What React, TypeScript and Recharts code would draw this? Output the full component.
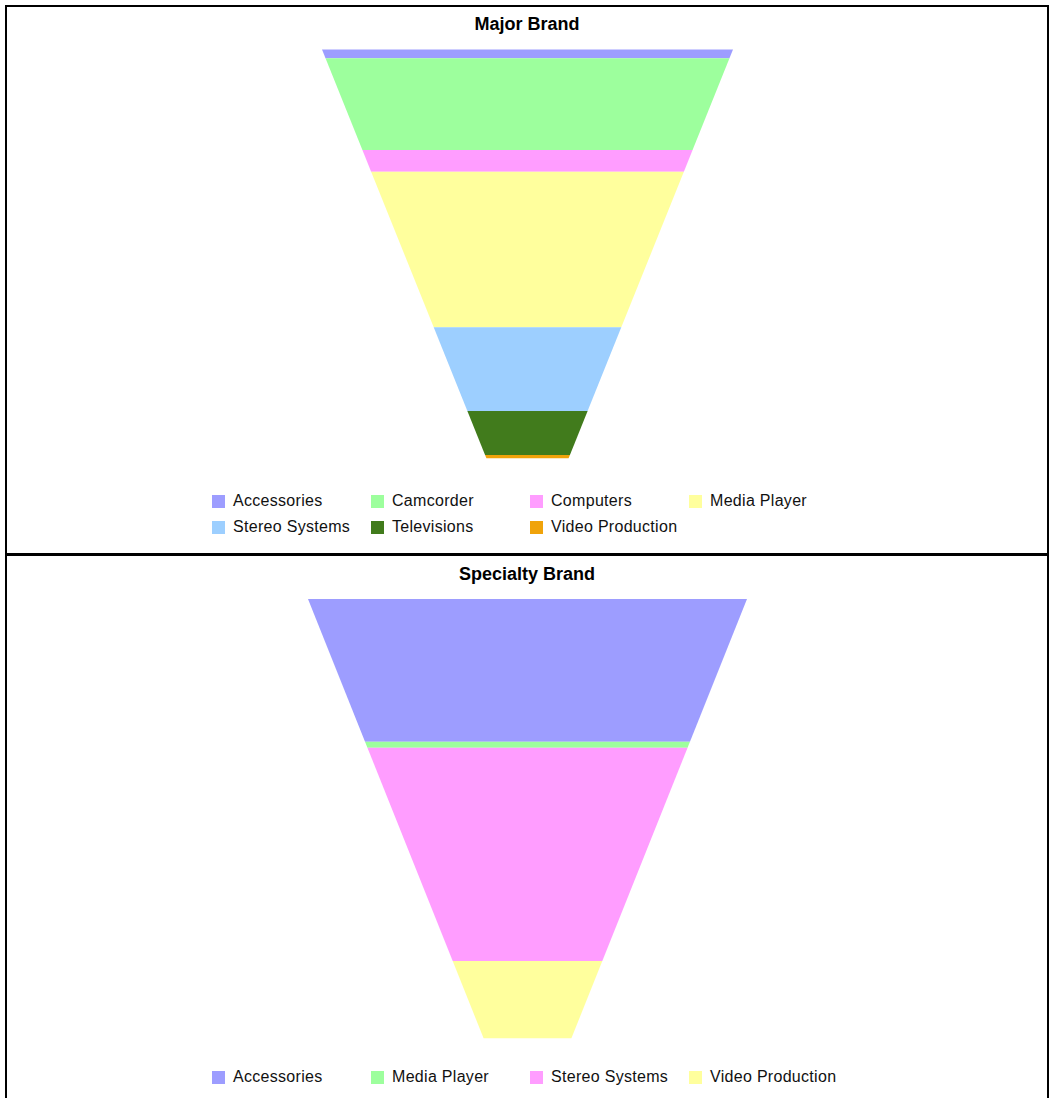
import React from "react"
import { BarChart, Bar, XAxis, YAxis, Legend } from "recharts"

const majorCategories = ["Accessories", "Camcorder", "Computers", "Media Player", "Stereo Systems", "Televisions", "Video Production"]
const majorValues = [8.8, 91.7, 21.7, 155.6, 83.7, 44, 3.3]

const specialtyCategories = ["Accessories", "Media Player", "Stereo Systems", "Video Production"]
const specialtyValues = [142.7, 6, 213.3, 77.3]

const palette = ["#9d9dff", "#9dff9d", "#ff9dff", "#ffff9d", "#9dcfff", "#417b1c", "#f0a30a"]

const CHART_W = 1040
const CHART_H = 546
const NECK = 0.2

// each stacked segment is cut out of one truncated cone spanning the whole plot height
const FunnelSegment = (props: any) => {
  const { x, y, width, height, fill, background } = props
  const top = background ? background.y : 0
  const bottom = background ? background.y + background.height : 1
  const y0 = Math.min(y, y + height)
  const y1 = Math.max(y, y + height)
  const cx = x + width / 2
  const half = (py: number) => (width / 2) * (1 - (1 - NECK) * (py - top) / (bottom - top))
  const pts = [
    [cx - half(y0), y0],
    [cx + half(y0), y0],
    [cx + half(y1), y1],
    [cx - half(y1), y1],
  ]
  return <polygon points={pts.map((p) => p.join(",")).join(" ")} fill={fill} />
}

function FunnelLegend({ payload }: any) {
  return (
    <div style={{ display: "grid", gridTemplateColumns: "repeat(4, 159px)", paddingLeft: 205 }}>
      {(payload || []).map((p: any) => (
        <div key={p.value} style={{ height: 26, display: "flex", alignItems: "center" }}>
          <span style={{ width: 13, height: 13, background: p.color, marginRight: 8, display: "inline-block" }} />
          <span style={{ fontSize: 16, letterSpacing: 0.3, color: "#111", whiteSpace: "nowrap" }}>{p.value}</span>
        </div>
      ))}
    </div>
  )
}

interface FunnelPanelProps {
  title: string
  categories: string[]
  values: number[]
  margin: { top: number; bottom: number }
  topWidth: number
  legendTop: number
  titleTop: number
}

function FunnelPanel({ title, categories, values, margin, topWidth, legendTop, titleTop }: FunnelPanelProps) {
  const row: Record<string, string | number> = { brand: title }
  categories.forEach((c, i) => (row[c] = values[i]))

  return (
    <div style={{ position: "relative", width: CHART_W, height: CHART_H }}>
      <BarChart
        width={CHART_W}
        height={CHART_H}
        data={[row]}
        margin={{ top: margin.top, bottom: margin.bottom, left: 0, right: 0 }}
        barSize={topWidth}
      >
        <XAxis dataKey="brand" hide />
        <YAxis type="number" domain={[0, "dataMax"]} reversed hide />
        {categories.map((c, i) => (
          <Bar
            key={c}
            dataKey={c}
            name={c}
            stackId="funnel"
            fill={palette[i]}
            shape={FunnelSegment}
            isAnimationActive={false}
          />
        ))}
        {/* middle + center keeps the legend from eating into the plot area */}
        <Legend
          layout="horizontal"
          verticalAlign="middle"
          align="center"
          content={<FunnelLegend />}
          wrapperStyle={{ left: 0, top: legendTop, width: CHART_W }}
        />
      </BarChart>
      <div
        style={{
          position: "absolute",
          left: 0,
          top: titleTop,
          width: CHART_W,
          textAlign: "center",
          fontSize: 18,
          lineHeight: "20px",
          fontWeight: "bold",
          color: "#000",
          pointerEvents: "none",
        }}
      >
        {title}
      </div>
    </div>
  )
}

export default function App() {
  return (
    <div style={{ fontFamily: "Arial, 'Liberation Sans', sans-serif" }}>
      <style>{"body{margin:0;overflow:hidden}"}</style>
      <div
        style={{
          position: "absolute",
          left: 5,
          top: 5,
          width: 1044,
          height: 1110,
          border: "2px solid #000",
          boxSizing: "border-box",
          background: "#fff",
        }}
      >
        <FunnelPanel
          title="Major Brand"
          categories={majorCategories}
          values={majorValues}
          margin={{ top: 42.5, bottom: 94.7 }}
          topWidth={411}
          legendTop={481}
          titleTop={7}
        />
        <div style={{ height: 3, background: "#000" }} />
        <FunnelPanel
          title="Specialty Brand"
          categories={specialtyCategories}
          values={specialtyValues}
          margin={{ top: 43, bottom: 63.7 }}
          topWidth={439}
          legendTop={508}
          titleTop={8}
        />
      </div>
    </div>
  )
}
